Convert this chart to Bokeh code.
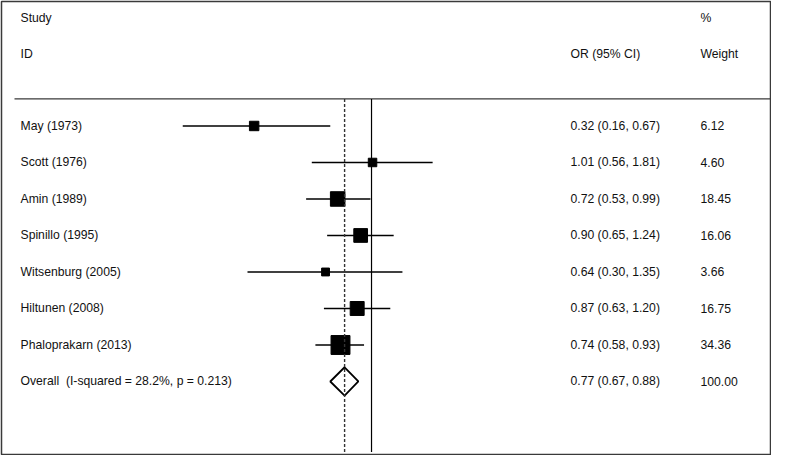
from bokeh.plotting import figure
from bokeh.models import Range1d, ColumnDataSource, LinearScale
from bokeh.core.properties import value
from bokeh.embed import file_html
from bokeh.resources import INLINE
import math

# ---- data ----
studies = ["May (1973)", "Scott (1976)", "Amin (1989)", "Spinillo (1995)",
           "Witsenburg (2005)", "Hiltunen (2008)", "Phaloprakarn (2013)"]
or_vals = [0.32, 1.01, 0.72, 0.90, 0.64, 0.87, 0.74]
ci_low = [0.16, 0.56, 0.53, 0.65, 0.30, 0.63, 0.58]
ci_high = [0.67, 1.81, 0.99, 1.24, 1.35, 1.20, 0.93]
weights = [6.12, 4.60, 18.45, 16.06, 3.66, 16.75, 34.36]
overall_or = 0.77
overall_low = 0.67
overall_high = 0.88
overall_weight = 100.00
overall_label = "Overall\u00a0 (I-squared = 28.2%, p = 0.213)"
header_study = ["Study", "ID"]
header_or = "OR (95% CI)"
header_weight = ["%", "Weight"]

# ---- layout ----
W, H = 771, 455
FONT = value("Liberation Sans")
FS = "12.2px"
TXT = "#111111"

rows = [-i for i in range(len(studies))]
overall_row = -len(studies)
y_top, y_bot = 3.41, -9.0
rule_y = 0.74
line_bottom = -8.93

p = figure(width=W, height=H, output_backend="svg", toolbar_location=None,
           x_axis_type="log", x_axis_location=None, y_axis_location=None,
           x_range=Range1d(0.02754, 48.1), y_range=Range1d(y_bot, y_top),
           min_border=1, background_fill_color="white", border_fill_color="white")
p.xgrid.visible = False
p.ygrid.visible = False
p.outline_line_color = "#3a3a3a"
p.outline_line_width = 1.5
p.extra_x_ranges["px"] = Range1d(1, W - 1)
p.extra_x_scales["px"] = LinearScale()

# header rule
p.segment(x0=[14], x1=[W], y0=[rule_y], y1=[rule_y], x_range_name="px",
          line_color="#3a3a3a", line_width=1.2)

# reference line at OR = 1
p.segment(x0=[1.0], x1=[1.0], y0=[rule_y], y1=[line_bottom],
          line_color="black", line_width=1.2)

# CIs and weighted squares
src = ColumnDataSource(dict(y=rows, orv=or_vals, lo=ci_low, hi=ci_high,
                            size=[2.8 * math.sqrt(w) + 2.5 for w in weights]))
p.segment(x0="lo", x1="hi", y0="y", y1="y", source=src, line_color="black", line_width=1.5)
p.scatter(x="orv", y="y", size="size", marker="square", source=src,
          fill_color="black", line_color="black")

# overall diamond
dh = 0.39
p.patch(x=[overall_low, overall_or, overall_high, overall_or],
        y=[overall_row, overall_row + dh, overall_row, overall_row - dh],
        fill_color="white", fill_alpha=0.0, line_color="black", line_width=1.8)

p.segment(x0=[overall_or], x1=[overall_or], y0=[rule_y], y1=[line_bottom],
          line_color="#333333", line_width=1.4, line_dash="3 2")

# texts
def txt(x, y, t):
    p.text(x=x, y=y, text=t, x_range_name="px", text_font=FONT,
           text_font_size=FS, text_color=TXT, text_baseline="middle", text_align="left")

txt([20, 20], [2.96, 1.96], header_study)
txt([570], [1.96], [header_or])
txt([700, 700], [2.96, 1.96], header_weight)

txt([20] * len(studies), rows, studies)
txt([20], [overall_row], [overall_label])

ci_txt = [f"{o:.2f} ({l:.2f}, {h:.2f})" for o, l, h in zip(or_vals, ci_low, ci_high)]
txt([570] * len(studies), rows, ci_txt)
txt([570], [overall_row], [f"{overall_or:.2f} ({overall_low:.2f}, {overall_high:.2f})"])

w_txt = [f"{w:.2f}" for w in weights]
txt([700] * len(studies), rows, w_txt)
txt([700], [overall_row], [f"{overall_weight:.2f}"])

open("out.html", "w").write(file_html(p, INLINE))
